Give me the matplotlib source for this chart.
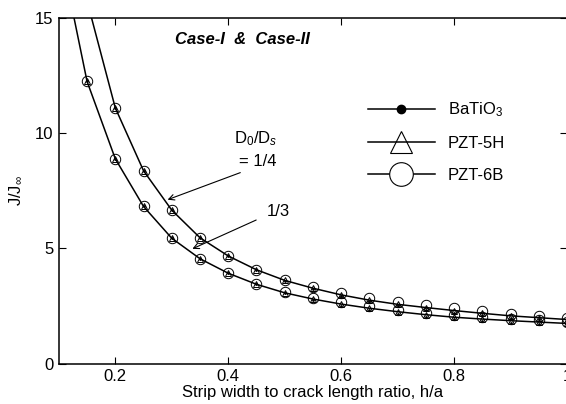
import matplotlib
matplotlib.use("Agg")
import matplotlib.pyplot as plt
from matplotlib.lines import Line2D
import numpy as np

plt.rcParams["font.family"] = ["Liberation Sans", "DejaVu Sans"]
plt.rcParams["mathtext.fontset"] = "custom"
plt.rcParams["mathtext.rm"] = "Liberation Sans"
plt.rcParams["mathtext.it"] = "Liberation Sans:italic"

# h/a values where the markers sit
x_14 = [0.2, 0.25, 0.3, 0.35, 0.4, 0.45, 0.5, 0.55, 0.6, 0.65,
        0.7, 0.75, 0.8, 0.85, 0.9, 0.95, 1.0]
x_13 = [0.15, 0.2, 0.25, 0.3, 0.35, 0.4, 0.45, 0.5, 0.55, 0.6,
        0.65, 0.7, 0.75, 0.8, 0.85, 0.9, 0.95, 1.0]

# J/J_inf, D0/Ds = 1/4 (upper curve)
j_14 = [11.1, 8.37, 6.66, 5.46, 4.67, 4.07, 3.61, 3.27, 2.98, 2.75,
        2.57, 2.43, 2.3, 2.18, 2.07, 1.99, 1.91]
# J/J_inf, D0/Ds = 1/3 (lower curve)
j_13 = [12.25, 8.89, 6.82, 5.44, 4.55, 3.92, 3.44, 3.07, 2.8, 2.58,
        2.4, 2.25, 2.12, 2.01, 1.93, 1.86, 1.8, 1.74]

# where each curve leaves the top of the frame
top_x_14, top_y_14 = 0.158, 15.0
top_x_13, top_y_13 = 0.127, 15.0

# small spread between materials at larger h/a
spread_14 = [0, 0, 0, 0, 0, 0, 0.03, 0.05, 0.07, 0.08,
             0.09, 0.09, 0.09, 0.08, 0.08, 0.07, 0.07]
spread_13 = [0, 0, 0, 0, 0, 0, 0, 0.03, 0.05, 0.07,
             0.08, 0.09, 0.09, 0.09, 0.08, 0.08, 0.07, 0.07]

materials = ["BaTiO$_3$", "PZT-5H", "PZT-6B"]

fig = plt.figure(figsize=(5.66, 4.04), dpi=100)
ax = fig.add_axes([0.1039, 0.1002, 0.8980, 0.8552])

lw = 1.1
ax.plot([top_x_14] + x_14, [top_y_14] + j_14, "k-", lw=lw)
ax.plot([top_x_13] + x_13, [top_y_13] + j_13, "k-", lw=lw)

for xs, js, sp in [(x_14, j_14, spread_14), (x_13, j_13, spread_13)]:
    js = np.array(js)
    sp = np.array(sp)
    ax.plot(xs, js + sp, "o", ms=7.5, mfc="none", mec="k", mew=0.7)
    ax.plot(xs, js, "^", ms=5, mfc="none", mec="k", mew=0.7)
    ax.plot(xs, js - sp, ".", ms=2, color="k")

handles = [
    Line2D([], [], color="k", lw=lw, marker="o", ms=6, mfc="k", mec="k"),
    Line2D([], [], color="k", lw=lw, marker="^", ms=16, mfc="none", mec="k", mew=0.8),
    Line2D([], [], color="k", lw=lw, marker="o", ms=17, mfc="white", mec="k", mew=0.8),
]
ax.legend(handles, materials, loc="upper left", bbox_to_anchor=(0.595, 0.78),
          frameon=False, fontsize=12, handlelength=4.0, handletextpad=0.8,
          labelspacing=1.0, borderaxespad=0)

ax.annotate("", xy=(0.288, 7.07), xytext=(0.426, 8.33),
            arrowprops=dict(arrowstyle="->", color="k", lw=0.8,
                            mutation_scale=10))
ax.annotate("", xy=(0.332, 4.93), xytext=(0.454, 6.28),
            arrowprops=dict(arrowstyle="->", color="k", lw=0.8,
                            mutation_scale=10))
ax.text(0.449, 9.55, "D$_0$/D$_s$", fontsize=12, ha="center", va="baseline")
ax.text(0.453, 8.75, "= 1/4", fontsize=12, ha="center", va="center")
ax.text(0.468, 6.6, "1/3", fontsize=12, ha="left", va="center")

ax.text(0.306, 14.05, "Case-I  &  Case-II", fontsize=12, fontweight="bold",
        fontstyle="italic", ha="left", va="center")

ax.set_xlim(0.1, 1.0)
ax.set_ylim(0, 15)
ax.set_xticks([0.2, 0.4, 0.6, 0.8, 1.0])
ax.set_xticklabels(["0.2", "0.4", "0.6", "0.8", "1"])
ax.set_yticks([0, 5, 10, 15])
ax.tick_params(direction="in", top=True, right=True, length=5, width=0.8,
               labelsize=12, pad=4)
for s in ax.spines.values():
    s.set_linewidth(1.1)

ax.set_xlabel("Strip width to crack length ratio, h/a", fontsize=12, labelpad=1)
ax.set_ylabel("J/J$_\\infty$", fontsize=12, labelpad=8)

fig.savefig("out.png", dpi=100)
